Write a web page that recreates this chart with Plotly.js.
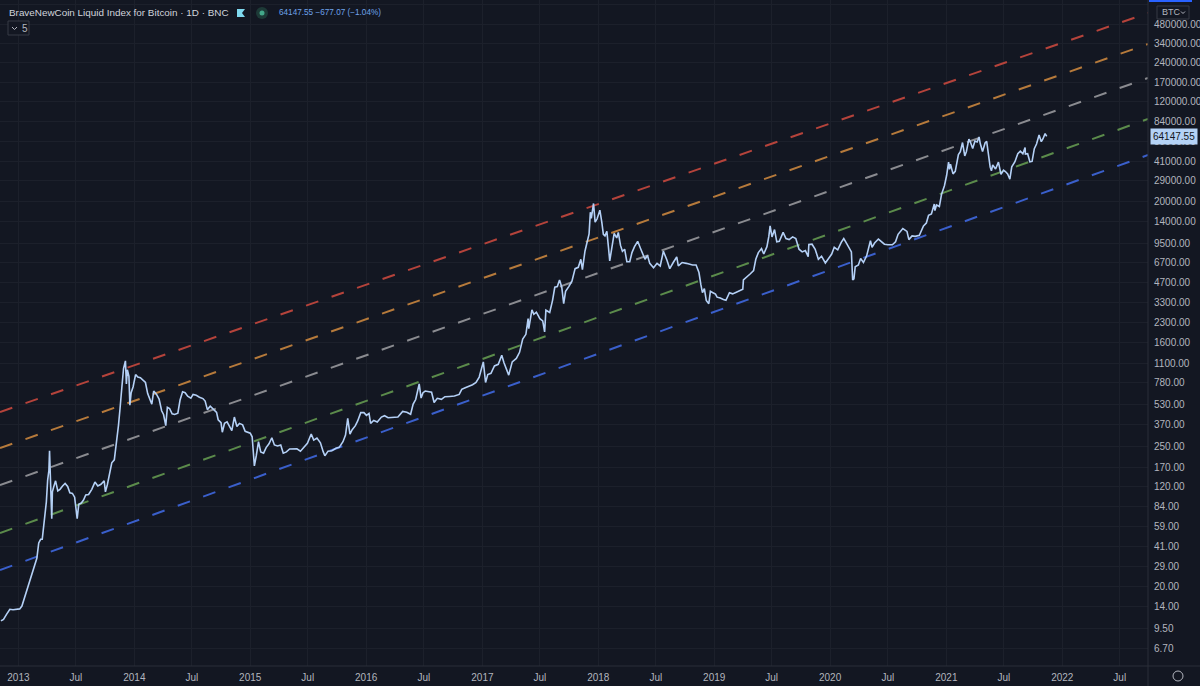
<!DOCTYPE html>
<html><head><meta charset="utf-8">
<script src="https://cdn.plot.ly/plotly-3.0.1.min.js"></script>
<style>html,body{margin:0;padding:0;background:#131722;overflow:hidden}#chart{width:1200px;height:686px}</style>
</head><body><div id="chart"></div><script>
// ---------- data ----------
const priceDates = [
'2012-11-07','2012-11-15','2012-11-25','2012-12-05','2012-12-15','2012-12-25',
'2013-01-05','2013-01-12','2013-01-20','2013-01-28','2013-02-05','2013-02-12','2013-02-20','2013-02-28',
'2013-03-06','2013-03-12','2013-03-17','2013-03-24','2013-03-30','2013-04-03','2013-04-07','2013-04-09','2013-04-10','2013-04-12','2013-04-14','2013-04-16','2013-04-18','2013-04-22','2013-04-28',
'2013-05-05','2013-05-12','2013-05-20','2013-05-28','2013-06-05','2013-06-12','2013-06-20','2013-06-27',
'2013-07-05','2013-07-10','2013-07-18','2013-07-25','2013-08-01','2013-08-10','2013-08-20','2013-08-30',
'2013-09-08','2013-09-18','2013-09-28','2013-10-02','2013-10-08','2013-10-15','2013-10-22','2013-10-30',
'2013-11-06','2013-11-12','2013-11-17','2013-11-19','2013-11-23','2013-11-28','2013-12-04','2013-12-07','2013-12-10','2013-12-15','2013-12-18','2013-12-22','2013-12-28',
'2014-01-05','2014-01-12','2014-01-20','2014-01-28','2014-02-05','2014-02-12','2014-02-20','2014-02-25',
'2014-03-03','2014-03-12','2014-03-20','2014-03-28','2014-04-03','2014-04-10','2014-04-15','2014-04-22','2014-04-30',
'2014-05-08','2014-05-18','2014-05-25','2014-06-02','2014-06-10','2014-06-18','2014-06-28',
'2014-07-05','2014-07-15','2014-07-25','2014-08-05','2014-08-12','2014-08-19','2014-08-28',
'2014-09-07','2014-09-17','2014-09-22','2014-10-01','2014-10-05','2014-10-12','2014-10-20','2014-10-28',
'2014-11-04','2014-11-12','2014-11-20','2014-11-28','2014-12-08','2014-12-16','2014-12-24',
'2015-01-01','2015-01-07','2015-01-14','2015-01-20','2015-01-27','2015-02-03','2015-02-12','2015-02-20',
'2015-03-01','2015-03-10','2015-03-18','2015-03-28','2015-04-07','2015-04-15','2015-04-25',
'2015-05-05','2015-05-15','2015-05-28','2015-06-08','2015-06-20','2015-06-30',
'2015-07-12','2015-07-20','2015-07-30','2015-08-10','2015-08-19','2015-08-24',
'2015-09-03','2015-09-15','2015-09-28','2015-10-08','2015-10-20','2015-10-28',
'2015-11-04','2015-11-11','2015-11-18','2015-11-28','2015-12-05','2015-12-15','2015-12-25',
'2016-01-02','2016-01-10','2016-01-15','2016-01-25','2016-02-05','2016-02-18','2016-02-28',
'2016-03-10','2016-03-25','2016-04-10','2016-04-25','2016-05-08','2016-05-20','2016-05-28',
'2016-06-05','2016-06-12','2016-06-16','2016-06-22','2016-06-28','2016-07-05','2016-07-15','2016-07-25',
'2016-08-02','2016-08-12','2016-08-25','2016-09-05','2016-09-20','2016-10-05','2016-10-20','2016-10-28',
'2016-11-08','2016-11-20','2016-12-01','2016-12-12','2016-12-22','2016-12-28',
'2017-01-04','2017-01-11','2017-01-18','2017-01-28','2017-02-08','2017-02-20',
'2017-03-03','2017-03-10','2017-03-18','2017-03-25','2017-04-05','2017-04-18','2017-04-28',
'2017-05-08','2017-05-18','2017-05-25','2017-05-27','2017-06-06','2017-06-12','2017-06-20',
'2017-07-01','2017-07-10','2017-07-16','2017-07-20','2017-08-01','2017-08-10','2017-08-17','2017-08-25',
'2017-09-01','2017-09-08','2017-09-14','2017-09-20','2017-09-30','2017-10-10','2017-10-20','2017-10-30',
'2017-11-07','2017-11-12','2017-11-20','2017-11-28','2017-12-03','2017-12-07','2017-12-10','2017-12-17','2017-12-22','2017-12-28',
'2018-01-06','2018-01-12','2018-01-17','2018-01-22','2018-01-28','2018-02-02','2018-02-06','2018-02-12','2018-02-20','2018-02-28',
'2018-03-05','2018-03-12','2018-03-18','2018-03-25','2018-04-01','2018-04-10','2018-04-17','2018-04-25',
'2018-05-05','2018-05-15','2018-05-28','2018-06-05','2018-06-12','2018-06-24',
'2018-07-05','2018-07-15','2018-07-25','2018-08-05','2018-08-14','2018-08-25',
'2018-09-05','2018-09-10','2018-09-22','2018-10-05','2018-10-15','2018-10-25',
'2018-11-05','2018-11-14','2018-11-20','2018-11-25','2018-12-01','2018-12-07','2018-12-15','2018-12-20','2018-12-28',
'2019-01-05','2019-01-10','2019-01-20','2019-01-30','2019-02-07','2019-02-18','2019-02-28',
'2019-03-10','2019-03-20','2019-04-01','2019-04-03','2019-04-12','2019-04-24',
'2019-05-05','2019-05-12','2019-05-20','2019-05-30','2019-06-06','2019-06-16','2019-06-22','2019-06-26',
'2019-07-02','2019-07-10','2019-07-17','2019-07-25','2019-08-06','2019-08-15','2019-08-25',
'2019-09-05','2019-09-15','2019-09-25','2019-10-05','2019-10-15','2019-10-24','2019-10-26',
'2019-11-05','2019-11-15','2019-11-25','2019-12-05','2019-12-17','2019-12-28',
'2020-01-06','2020-01-14','2020-01-25','2020-02-05','2020-02-13','2020-02-20',
'2020-03-01','2020-03-08','2020-03-12','2020-03-16','2020-03-20','2020-03-30',
'2020-04-06','2020-04-15','2020-04-25','2020-05-07','2020-05-12','2020-05-20',
'2020-06-01','2020-06-10','2020-06-20','2020-07-01','2020-07-15','2020-07-25',
'2020-08-02','2020-08-17','2020-08-30','2020-09-05','2020-09-15','2020-09-25',
'2020-10-08','2020-10-21','2020-10-30','2020-11-06','2020-11-15','2020-11-24','2020-11-26',
'2020-12-01','2020-12-10','2020-12-17','2020-12-26',
'2021-01-02','2021-01-08','2021-01-11','2021-01-14','2021-01-22','2021-01-29',
'2021-02-08','2021-02-14','2021-02-21','2021-02-28','2021-03-05','2021-03-13','2021-03-18','2021-03-25',
'2021-04-01','2021-04-08','2021-04-14','2021-04-18','2021-04-25',
'2021-05-03','2021-05-08','2021-05-12','2021-05-19','2021-05-23','2021-05-27',
'2021-06-05','2021-06-14','2021-06-22','2021-06-30','2021-07-06','2021-07-13','2021-07-20','2021-07-26',
'2021-08-05','2021-08-14','2021-08-22','2021-08-30','2021-09-06','2021-09-07','2021-09-14','2021-09-21','2021-09-28',
'2021-10-05','2021-10-12','2021-10-20','2021-10-27','2021-11-01','2021-11-08','2021-11-13'
];
const priceValues = [
10.9,11.2,12.3,13.4,13.3,13.4,
13.5,14.2,16.5,19.0,21.5,24.5,29.5,33.4,
44,47,47,71,92,135,162,230,165,117,95,68,110,120,134,
112,115,122,128,121,108,107,100,
68,88,90,95,104,105,115,131,
122,126,134,110,125,150,185,195,
260,360,490,540,730,1000,1150,760,980,870,520,650,720,
900,860,850,810,780,640,560,530,
670,630,580,470,440,360,500,490,445,
440,450,570,660,650,610,590,
630,620,600,585,560,480,510,
478,457,400,380,320,375,385,355,
330,420,355,375,365,325,320,
315,295,175,210,270,225,220,243,
260,290,255,250,255,220,225,
237,237,238,228,245,262,
310,278,288,265,225,210,
228,230,240,244,270,304,
410,310,335,360,390,455,455,
433,448,375,395,385,420,430,
415,416,420,465,458,442,530,
575,690,760,590,650,670,662,655,
545,588,577,605,608,612,630,690,
710,730,750,780,860,975,
1130,780,900,920,1050,1080,
1270,1110,970,890,1130,1200,1340,
1700,1850,2450,2050,2870,2650,2750,
2450,2350,1930,2850,2740,3400,4300,4350,
4900,4300,3200,4000,4350,4800,6000,6150,
7100,5900,8200,9900,11200,16500,14800,19300,13800,14600,
17100,13800,11100,10800,11700,8800,6900,8500,11300,10400,
11500,9100,8200,8500,6800,6800,8000,8900,
9800,8500,7100,7600,6600,6100,
6600,6300,8200,7000,6000,6700,
7400,6300,6700,6600,6500,6400,
6400,5600,4500,3900,4200,3400,3200,4000,3900,
3800,3600,3550,3450,3400,3900,3820,
3920,4050,4150,4900,5100,5450,
5800,7100,8000,8600,7800,8900,10700,12900,
10600,12100,9700,9800,11500,10300,10100,
10600,10300,8500,8100,8300,7450,9250,
9300,8500,7100,7500,6650,7300,
7800,8800,8400,9600,10300,9600,
8600,8100,4900,5000,6200,6400,
7200,6700,7550,9900,8800,9500,
10200,9800,9300,9200,9200,9700,
11100,12300,11700,10100,10800,10700,
10900,12900,13600,15600,16000,19100,17000,
18800,18300,22800,26500,
32000,40500,35500,39000,32800,34300,
46400,48800,57500,45200,48800,61200,57800,51700,
59000,58000,63500,56200,49000,
57000,58800,49500,37000,34700,38500,
35800,40500,32500,35000,34200,32700,29800,37200,
40800,47000,49300,47000,52600,46800,47100,40700,41000,
51500,56000,65900,58400,61300,67500,64147.55
];

const channelDates = ['2012-11-04', '2022-09-28'];
const channelNames = ['Red', 'Orange', 'Gray', 'Green', 'Blue'];
const channelStartValues = [460, 241, 124, 52.6, 27.1];
const channelEndValues = [586000, 336000, 182800, 87700, 46000];

const yTickVals = [6.7,9.5,14,20,29,41,59,84,120,170,250,370,530,780,1100,1600,2300,3300,4700,6700,9500,14000,20000,29000,41000,59000,84000,120000,170000,240000,340000,480000,680000];
const yTickText = ['6.70','9.50','14.00','20.00','29.00','41.00','59.00','84.00','120.00','170.00','250.00','370.00','530.00','780.00','1100.00','1600.00','2300.00','3300.00','4700.00','6700.00','9500.00','14000.00','20000.00','29000.00','41000.00','59000.00','84000.00','120000.00','170000.00','240000.00','340000.00','480000.00','680000.00'];
const xTickVals = ['2013-01-01','2013-07-01','2014-01-01','2014-07-01','2015-01-01','2015-07-01','2016-01-01','2016-07-01','2017-01-01','2017-07-01','2018-01-01','2018-07-01','2019-01-01','2019-07-01','2020-01-01','2020-07-01','2021-01-01','2021-07-01','2022-01-01','2022-07-01'];
const xTickText = ['2013','Jul','2014','Jul','2015','Jul','2016','Jul','2017','Jul','2018','Jul','2019','Jul','2020','Jul','2021','Jul','2022','Jul'];

const titleText = 'BraveNewCoin Liquid Index for Bitcoin · 1D · BNC';
const lastPrice = 64147.55;
const changeText = '64147.55 −677.07 (−1.04%)';

// ---------- styles ----------
const channelColors = ['#b5433b', '#b67a3b', '#8a8b90', '#5b8b4b', '#3a5fcb'];
const PW = 1148, PH = 666;
const px = v => v / PW;
const py = v => 1 - v / PH;

const traces = channelNames.map((n, i) => ({
  type: 'scatter', mode: 'lines', name: n,
  x: channelDates, y: [channelStartValues[i], channelEndValues[i]],
  line: {color: channelColors[i], width: 2, dash: '13px,14px'},
  hoverinfo: 'skip'
}));
traces.push({
  type: 'scatter', mode: 'lines', name: 'BLX',
  x: priceDates, y: priceValues,
  line: {color: '#b4d0f6', width: 1.6},
  hoverinfo: 'skip'
});

const fontF = 'Liberation Sans, Arial, sans-serif';
const layout = {
  width: 1200, height: 686,
  margin: {l: 0, r: 52, t: 0, b: 20, pad: 0},
  paper_bgcolor: '#131722', plot_bgcolor: '#131722',
  showlegend: false, hovermode: false,
  font: {family: fontF, color: '#b2b5be', size: 10},
  xaxis: {
    type: 'date', range: ['2012-11-04', '2022-09-28'],
    tickmode: 'array', tickvals: xTickVals, ticktext: xTickText,
    showgrid: true, gridcolor: '#1c202b', gridwidth: 1,
    zeroline: false, showline: false, ticks: '',
    tickfont: {size: 10, color: '#b2b5be', family: fontF}, ticklabelstandoff: 4
  },
  yaxis: {
    type: 'log', side: 'right', range: [0.686, 5.869],
    tickmode: 'array', tickvals: yTickVals, ticktext: yTickText,
    showgrid: true, gridcolor: '#1c202b', gridwidth: 1,
    zeroline: false, showline: false, ticks: '',
    tickfont: {size: 10, color: '#b2b5be', family: fontF}, ticklabelstandoff: 5
  },
  shapes: [
    {type: 'line', xref: 'paper', yref: 'paper', x0: 1, x1: 1, y0: py(686), y1: 1, line: {color: '#2a2e39', width: 1}},
    {type: 'line', xref: 'paper', yref: 'paper', x0: 0, x1: px(1200), y0: 0, y1: 0, line: {color: '#2a2e39', width: 1}},
    {type: 'rect', xref: 'paper', yref: 'paper', x0: px(1149), x1: px(1192), y0: py(2), y1: py(0), fillcolor: '#2962ff', line: {width: 0}},
    {type: 'rect', xref: 'paper', yref: 'paper', x0: px(1157), x1: px(1189), y0: py(19), y1: py(6), fillcolor: '#131722', line: {color: '#363a45', width: 1}},
    {type: 'path', xref: 'paper', yref: 'paper', path: `M ${px(1181)} ${py(11.5)} L ${px(1183)} ${py(13.5)} L ${px(1185)} ${py(11.5)}`, line: {color: '#b2b5be', width: 1}},
    {type: 'rect', xref: 'paper', yref: 'paper', x0: px(8), x1: px(29), y0: py(35), y1: py(21), fillcolor: '#131722', line: {color: '#363a45', width: 1}},
    {type: 'path', xref: 'paper', yref: 'paper', path: `M ${px(12)} ${py(27)} L ${px(14.5)} ${py(29.5)} L ${px(17)} ${py(27)}`, line: {color: '#b2b5be', width: 1}},
    {type: 'path', xref: 'paper', yref: 'paper', path: `M ${px(237)} ${py(9)} L ${px(245)} ${py(9)} L ${px(242)} ${py(13)} L ${px(245)} ${py(17)} L ${px(237)} ${py(17)} Z`, fillcolor: '#7fd9ef', line: {width: 0}},
    {type: 'circle', xref: 'paper', yref: 'paper', x0: px(256), x1: px(268), y0: py(19), y1: py(7), fillcolor: '#1d3a37', line: {width: 0}},
    {type: 'circle', xref: 'paper', yref: 'paper', x0: px(259.5), x1: px(264.5), y0: py(15.5), y1: py(10.5), fillcolor: '#43a88a', line: {width: 0}},
    {type: 'circle', xref: 'paper', yref: 'paper', x0: px(1173), x1: px(1183), y0: py(681), y1: py(671), line: {color: '#b2b5be', width: 1}}
  ],
  annotations: [
    {xref: 'paper', yref: 'paper', x: px(7), y: py(13), xanchor: 'left', yanchor: 'middle', showarrow: false,
     text: titleText, font: {size: 9.9, color: '#d1d4dc', family: fontF}},
    {xref: 'paper', yref: 'paper', x: px(277), y: py(13), xanchor: 'left', yanchor: 'middle', showarrow: false,
     text: changeText, font: {size: 8.2, color: '#6ea3ea', family: fontF}},
    {xref: 'paper', yref: 'paper', x: px(20), y: py(28), xanchor: 'left', yanchor: 'middle', showarrow: false,
     text: '5', font: {size: 10, color: '#b2b5be', family: fontF}},
    {xref: 'paper', yref: 'paper', x: px(1160), y: py(12.5), xanchor: 'left', yanchor: 'middle', showarrow: false,
     text: 'BTC', font: {size: 9, color: '#b2b5be', family: fontF}},
    {xref: 'paper', yref: 'y', x: px(1150), y: Math.log10(lastPrice), xanchor: 'left', yanchor: 'middle', showarrow: false,
     text: lastPrice.toFixed(2), bgcolor: '#b4d2f6', borderpad: 2, font: {size: 10, color: '#131722', family: fontF}}
  ]
};

Plotly.newPlot('chart', traces, layout, {staticPlot: true, displayModeBar: false});
</script></body></html>
